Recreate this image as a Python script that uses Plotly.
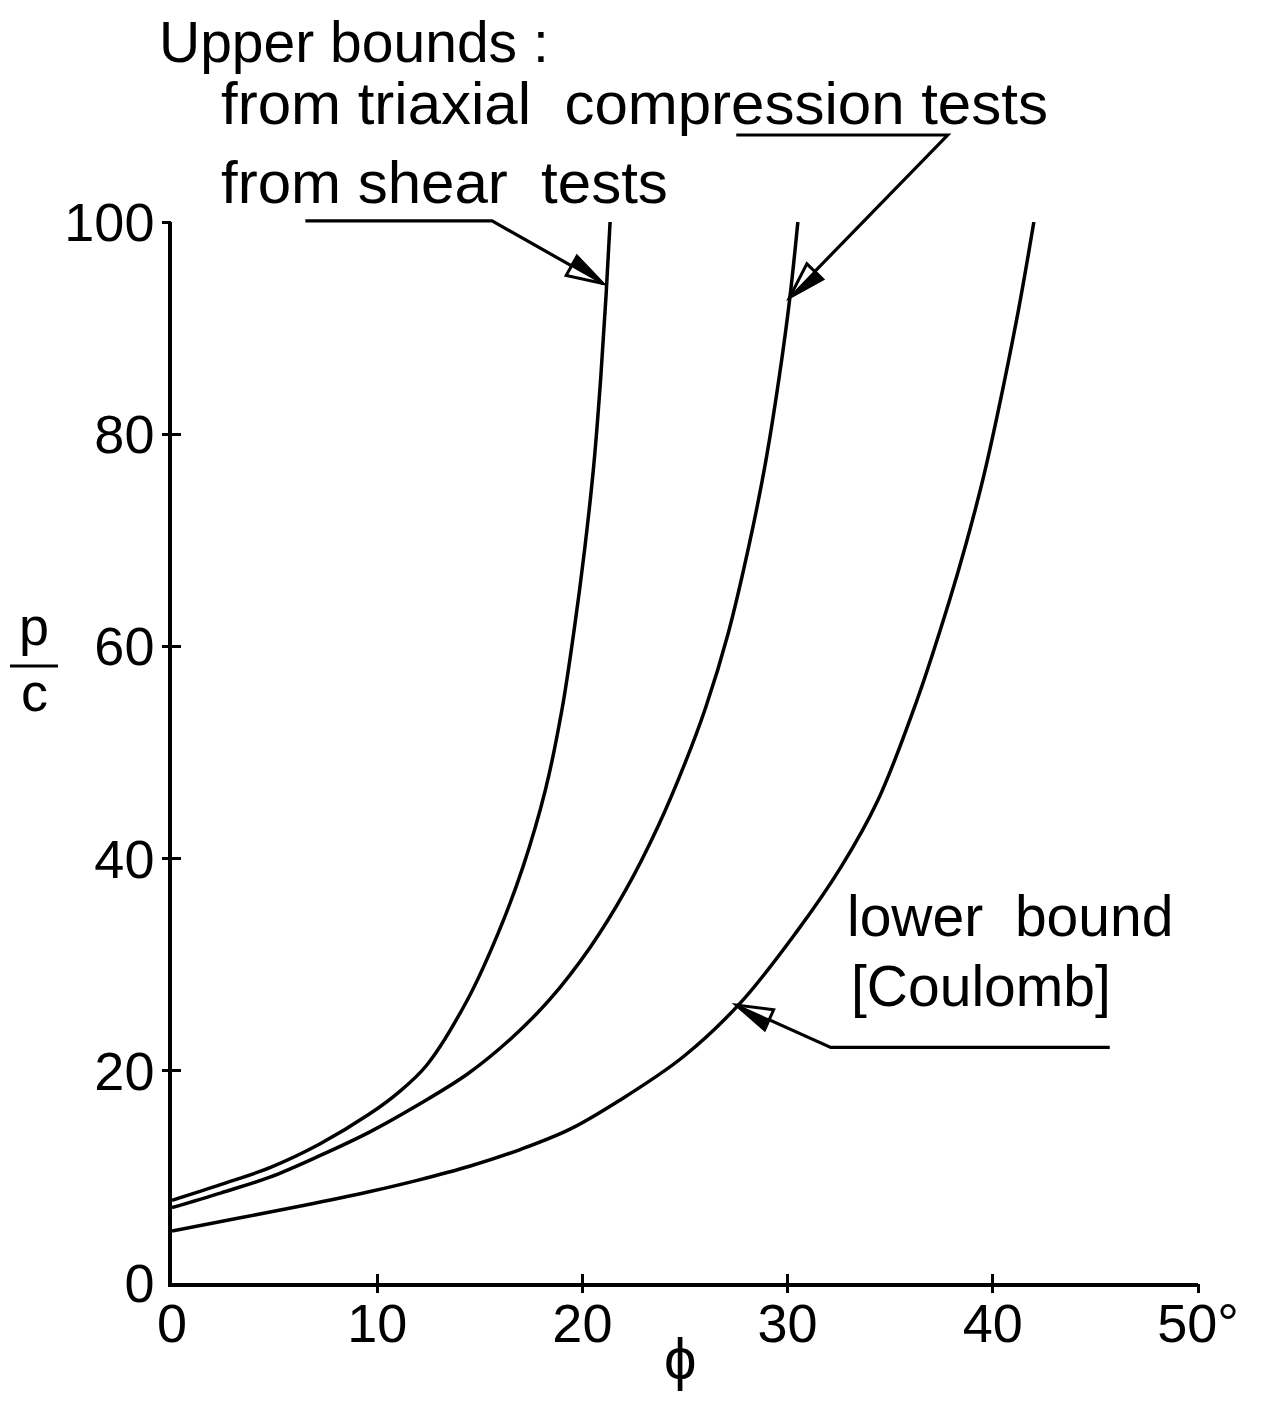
import plotly.graph_objects as go

# ---------------- data ----------------
shear_phi = [0, 2.4, 4.8, 7.2, 9.6, 11.0, 12.4, 14.4, 15.9, 17.1, 18.2, 19.0, 19.6, 20.1,
             20.55, 20.9, 21.15, 21.35]
shear_pc = [7.8, 9.3, 10.9, 13.1, 15.9, 17.9, 20.5, 26.7, 33.0, 39.2, 46.5, 54.0, 61.6, 69.0,
            77.0, 85.5, 93.0, 100.0]

triax_phi = [0, 2.4, 4.8, 7.2, 9.6, 12.0, 14.4, 16.5, 18.4, 20.4, 22.1, 23.7, 25.0, 26.0,
             27.1, 28.15, 28.95, 29.6, 30.1, 30.5]
triax_pc = [7.1, 8.5, 10.0, 12.0, 14.2, 16.8, 19.7, 23.0, 26.7, 31.7, 37.0, 43.1, 49.0, 54.2,
            61.2, 69.8, 77.6, 85.5, 92.7, 100.0]

coul_phi = [0, 3.2, 6.4, 9.6, 12.0, 14.5, 17.0, 19.4, 21.8, 24.9, 27.7, 30.4, 32.6, 34.4,
            36.3, 37.9, 38.7, 39.55, 40.2, 41.25, 42.0]
coul_pc = [4.9, 6.1, 7.3, 8.6, 9.7, 11.0, 12.6, 14.5, 17.2, 21.3, 26.4, 33.0, 39.2, 45.5,
           54.9, 64.4, 69.7, 76.0, 81.6, 91.7, 100.0]

x_tickvals = [0, 10, 20, 30, 40, 50]
x_ticktext = ["0", "10", "20", "30", "40", "50°"]
y_tickvals = [0, 20, 40, 60, 80, 100]
y_ticktext = ["0", "20", "40", "60", "80", "100"]

# leader lines (data units): start of horizontal, bend, arrow tip
leader_shear = [(6.5, 100.1), (15.6, 100.1), (21.0, 94.2)]
leader_triax = [(27.5, 108.2), (37.8, 108.2), (30.1, 92.9)]
leader_coul = [(45.7, 22.2), (32.1, 22.2), (27.5, 26.2)]

# ---------------- layout geometry ----------------
OFF = 8  # page body margin of the html page
W, H = 1247, 1385
ML, MT = 172 - OFF, 222 - OFF
PLOT_R, PLOT_B = 1198 - OFF, 1283 - OFF
MR, MB = W - PLOT_R, H - PLOT_B
XR = [0, 50]
YR = [0, 100]
PW = W - ML - MR
PH = H - MT - MB

FONT = "Liberation Sans"
INK = "black"

fig = go.Figure()
for xs, ys in [(shear_phi, shear_pc), (triax_phi, triax_pc), (coul_phi, coul_pc)]:
    fig.add_trace(go.Scatter(x=xs, y=ys, mode="lines",
                             line=dict(color=INK, width=3.5, shape="spline", smoothing=1.0),
                             showlegend=False, hoverinfo="skip"))
# dummy traces to make the tick-only overlay axes render
fig.add_trace(go.Scatter(x=[None], y=[None], xaxis="x2", yaxis="y2", showlegend=False))
fig.add_trace(go.Scatter(x=[None], y=[None], xaxis="x3", yaxis="y3", showlegend=False))


def to_paper(x, y):
    return (x - XR[0]) / (XR[1] - XR[0]), (y - YR[0]) / (YR[1] - YR[0])


def ref_to_paper(px, py):
    """reference screenshot pixel -> paper coords"""
    return (px - OFF - ML) / PW, (H - MB - (py - OFF)) / PH


shapes = []


def leader(points, head_len=36, head_half=11):
    pp = [to_paper(x, y) for x, y in points]
    path = "M " + " L ".join(f"{px:.5f},{py:.5f}" for px, py in pp)
    shapes.append(dict(type="path", xref="paper", yref="paper", path=path,
                       line=dict(color=INK, width=3.2)))
    (bx, by), (tx, ty) = pp[-2], pp[-1]
    sx0, sy0 = bx * PW, -by * PH
    sx1, sy1 = tx * PW, -ty * PH
    dx, dy = sx1 - sx0, sy1 - sy0
    L = (dx * dx + dy * dy) ** 0.5
    dx, dy = dx / L, dy / L
    nx, ny = dy, -dx
    basex, basey = sx1 - head_len * dx, sy1 - head_len * dy
    a = (basex + head_half * nx, basey + head_half * ny)
    b = (basex - head_half * nx, basey - head_half * ny)
    m = (basex, basey)

    def tp(p):
        return p[0] / PW, -p[1] / PH

    tip = (sx1, sy1)
    tri = [tp(tip), tp(a), tp(b)]
    half = [tp(tip), tp(a), tp(m)]
    shapes.append(dict(type="path", xref="paper", yref="paper",
                       path="M " + " L ".join(f"{u:.5f},{v:.5f}" for u, v in tri) + " Z",
                       fillcolor="white", line=dict(color=INK, width=3)))
    shapes.append(dict(type="path", xref="paper", yref="paper",
                       path="M " + " L ".join(f"{u:.5f},{v:.5f}" for u, v in half) + " Z",
                       fillcolor=INK, line=dict(color=INK, width=2)))


leader(leader_shear)
leader(leader_triax)
leader(leader_coul)

# fraction bar for p/c
fx0, fy0 = ref_to_paper(10, 666)
fx1, _ = ref_to_paper(58, 666)
shapes.append(dict(type="line", xref="paper", yref="paper",
                   x0=fx0, x1=fx1, y0=fy0, y1=fy0, line=dict(color=INK, width=3)))

annotations = []


def txt(text, px, py, size=56, xanchor="left", yanchor="middle"):
    x, y = ref_to_paper(px, py)
    annotations.append(dict(text=text, xref="paper", yref="paper", x=x, y=y,
                            xanchor=xanchor, yanchor=yanchor, showarrow=False,
                            borderpad=0,
                            font=dict(family=FONT, size=size, color=INK)))


txt("Upper bounds :", 158, OFF + 1, size=57, yanchor="top")
txt("from triaxial  compression tests", 220, 104, size=60)
txt("from shear  tests", 220, 183, size=60)
txt("lower  bound", 846, 916, size=57)
txt("[Coulomb]", 850, 986, size=57)
txt("p", 34, 626, size=54, xanchor="center")
txt("c", 34, 692, size=54, xanchor="center")
txt("ϕ", 680, H + OFF - 1, size=58, xanchor="center", yanchor="bottom")

axis_common = dict(showgrid=False, zeroline=False, linecolor=INK, linewidth=3.5,
                   automargin=False,
                   tickfont=dict(family=FONT, size=54, color=INK))

tick_axis = dict(showticklabels=False, showline=False, showgrid=False, zeroline=False,
                 ticklen=9, tickwidth=3, tickcolor=INK)

fig.update_layout(
    width=W, height=H,
    margin=dict(l=ML, r=MR, t=MT, b=MB, autoexpand=False),
    paper_bgcolor="white", plot_bgcolor="white",
    showlegend=False,
    shapes=shapes, annotations=annotations,
    xaxis=dict(range=XR, tickvals=x_tickvals, ticktext=x_ticktext, ticks="",
               showline=True, ticklabelstandoff=-10, **axis_common),
    yaxis=dict(range=YR, tickvals=y_tickvals, ticktext=y_ticktext, ticks="",
               showline=True, ticklabelstandoff=3, **axis_common),
    xaxis2=dict(range=XR, overlaying="x", anchor="y2", side="bottom",
                tickvals=[10, 20, 30, 40, 50], ticks="outside", **tick_axis),
    yaxis2=dict(range=YR, overlaying="y", anchor="x2", side="left",
                tickvals=[20, 40, 60, 80, 100], ticks="outside", **tick_axis),
    xaxis3=dict(range=XR, overlaying="x", anchor="y3", side="bottom",
                tickvals=[10, 20, 30, 40, 50], ticks="inside", **tick_axis),
    yaxis3=dict(range=YR, overlaying="y", anchor="x3", side="left",
                tickvals=[20, 40, 60, 80, 100], ticks="inside", **tick_axis),
)

fig.write_html("out.html")
